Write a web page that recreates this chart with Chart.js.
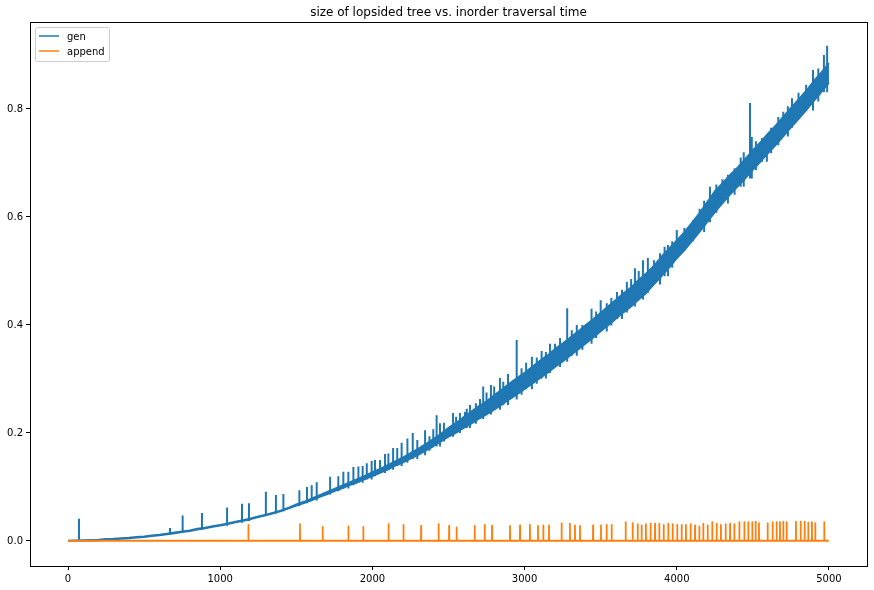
<!DOCTYPE html>
<html lang="en">
<head>
  <meta charset="UTF-8" />
  <title>size of lopsided tree vs. inorder traversal time</title>
  <script src="https://cdn.jsdelivr.net/npm/chart.js"></script>
  <style>
    body {
      margin: 0;
      background: #fff;
    }
    .wrap {
      width: 874px;
      height: 590px;
    }
  </style>
</head>
<body>
  <div class="wrap">
    <canvas id="chart" width="874" height="590"></canvas>
  </div>

  <script>
    const chartTitle = 'size of lopsided tree vs. inorder traversal time';
    const xTicks = [0, 1000, 2000, 3000, 4000, 5000];
    const yTicks = [0.0, 0.2, 0.4, 0.6, 0.8];

    // gen: readings of the band every 50 items (lower edge / upper edge)
    const genStep = 50;
    const genLow = [
      0.0000, 0.0001, 0.0003, 0.0006, 0.0011, 0.0018, 0.0026, 0.0035, 0.0046, 0.0058,
      0.0071, 0.0086, 0.0103, 0.0120, 0.0140, 0.0160, 0.0182, 0.0206, 0.0231, 0.0257,
      0.028, 0.031, 0.034, 0.037, 0.040, 0.044, 0.047, 0.051, 0.055, 0.060,
      0.065, 0.070, 0.075, 0.081, 0.086, 0.092, 0.097, 0.103, 0.108, 0.114,
      0.120, 0.126, 0.132, 0.139, 0.145, 0.152, 0.159, 0.167, 0.175, 0.184,
      0.193, 0.200, 0.209, 0.217, 0.226, 0.234, 0.243, 0.252, 0.262, 0.271,
      0.281, 0.291, 0.301, 0.311, 0.322, 0.332, 0.343, 0.354, 0.365, 0.376,
      0.388, 0.399, 0.411, 0.423, 0.434, 0.447, 0.459, 0.475, 0.490, 0.506,
      0.523, 0.538, 0.555, 0.572, 0.590, 0.608, 0.625, 0.641, 0.656, 0.671,
      0.687, 0.702, 0.718, 0.733, 0.749, 0.765, 0.781, 0.797, 0.814, 0.831,
      0.848
    ];
    const genHigh = [
      0.0010, 0.0015, 0.0020, 0.0025, 0.0030, 0.0040, 0.0045, 0.0055, 0.0065, 0.0080,
      0.0090, 0.0105, 0.0120, 0.0140, 0.0160, 0.0180, 0.0200, 0.0230, 0.0250, 0.0280,
      0.030, 0.033, 0.036, 0.039, 0.042, 0.046, 0.049, 0.053, 0.057, 0.062,
      0.068, 0.073, 0.079, 0.085, 0.091, 0.097, 0.103, 0.109, 0.115, 0.121,
      0.128, 0.134, 0.141, 0.148, 0.155, 0.163, 0.171, 0.180, 0.189, 0.199,
      0.210, 0.219, 0.230, 0.240, 0.250, 0.259, 0.270, 0.281, 0.292, 0.302,
      0.312, 0.323, 0.334, 0.344, 0.356, 0.366, 0.377, 0.388, 0.400, 0.411,
      0.423, 0.435, 0.447, 0.459, 0.470, 0.484, 0.496, 0.510, 0.527, 0.542,
      0.557, 0.572, 0.590, 0.608, 0.628, 0.648, 0.663, 0.678, 0.692, 0.708,
      0.724, 0.739, 0.755, 0.770, 0.786, 0.802, 0.818, 0.834, 0.852, 0.868,
      0.885
    ];
    // gen spikes above the band: position and peak
    const genSpikeX = [
      72, 670, 753, 880, 1045, 1143, 1189, 1300, 1366, 1415, 1520, 1570, 1601, 1634,
      1722, 1776, 1809, 1842, 1875, 1908, 1936, 1963, 1995, 2017, 2050, 2083, 2105,
      2136, 2163, 2192, 2230, 2265, 2295, 2346, 2375, 2400, 2422, 2444, 2470, 2530,
      2550, 2575, 2608, 2620, 2641, 2680, 2707, 2728, 2750, 2779, 2800, 2838, 2860,
      2891, 2948, 2980, 3010, 3048, 3080, 3112, 3140, 3167, 3200, 3233, 3280, 3310,
      3343, 3380, 3440, 3470, 3500, 3540, 3570, 3607, 3640, 3672, 3700, 3725, 3750,
      3778, 3810, 3850, 3890, 3920, 3942, 3970, 4000, 4050, 4107, 4150, 4180, 4218,
      4260, 4300, 4336, 4380, 4420, 4440, 4481, 4493, 4520, 4560, 4592, 4620, 4667,
      4700, 4730, 4757, 4800, 4850, 4895, 4930, 4967, 4988
    ];
    const genSpikeY = [
      0.041, 0.024, 0.047, 0.052, 0.062, 0.069, 0.070, 0.091, 0.085, 0.087, 0.094, 0.100, 0.103, 0.109,
      0.119, 0.120, 0.128, 0.128, 0.137, 0.138, 0.139, 0.144, 0.148, 0.150, 0.150, 0.161, 0.162,
      0.172, 0.172, 0.182, 0.190, 0.200, 0.187, 0.205, 0.194, 0.207, 0.233, 0.218, 0.219, 0.237,
      0.230, 0.237, 0.239, 0.245, 0.252, 0.255, 0.263, 0.286, 0.275, 0.289, 0.286, 0.302, 0.295,
      0.309, 0.372, 0.320, 0.330, 0.341, 0.340, 0.352, 0.350, 0.365, 0.365, 0.376, 0.431, 0.390,
      0.400, 0.400, 0.430, 0.425, 0.446, 0.440, 0.450, 0.461, 0.465, 0.480, 0.485, 0.505, 0.500,
      0.520, 0.524, 0.520, 0.533, 0.545, 0.548, 0.555, 0.576, 0.580, 0.594, 0.615, 0.630, 0.656,
      0.660, 0.670, 0.678, 0.690, 0.710, 0.720, 0.811, 0.748, 0.740, 0.746, 0.752, 0.765, 0.785,
      0.795, 0.805, 0.820, 0.830, 0.845, 0.872, 0.875, 0.900, 0.917
    ];

    // append: flat near zero with short spikes
    const appendLevel = 0.0005;
    const appendEnd = 4999;
    const appendSpikeX = [
      1185, 1524, 1673, 1842, 1940, 2106, 2204, 2320, 2435, 2504, 2553, 2672, 2738, 2786,
      2904, 2970, 3035, 3088, 3123, 3160, 3243, 3298, 3331, 3364, 3450, 3502, 3539, 3572,
      3664, 3710, 3743, 3769, 3797, 3828, 3857, 3885, 3914, 3944, 3973, 4003, 4032, 4060,
      4091, 4120, 4148, 4174, 4203, 4233, 4262, 4290, 4321, 4350, 4378, 4411, 4444, 4470,
      4496, 4518, 4540, 4597, 4630, 4656, 4678, 4700, 4722, 4783, 4814, 4840, 4864, 4888,
      4910, 4969
    ];
    const appendSpikeY = [
      0.030, 0.031, 0.026, 0.027, 0.026, 0.031, 0.030, 0.028, 0.031, 0.028, 0.025, 0.028, 0.030, 0.028,
      0.028, 0.029, 0.030, 0.028, 0.029, 0.029, 0.033, 0.032, 0.029, 0.028, 0.029, 0.029, 0.030, 0.030,
      0.035, 0.033, 0.031, 0.029, 0.031, 0.032, 0.032, 0.032, 0.030, 0.032, 0.031, 0.030, 0.030, 0.030,
      0.031, 0.029, 0.027, 0.032, 0.029, 0.035, 0.032, 0.030, 0.031, 0.032, 0.031, 0.035, 0.035, 0.035,
      0.035, 0.036, 0.033, 0.033, 0.035, 0.035, 0.035, 0.036, 0.035, 0.036, 0.036, 0.036, 0.034, 0.035,
      0.033, 0.035
    ];

    const BLUE = '#1f77b4';
    const ORANGE = '#ff7f0e';

    const genHighPts = genHigh.map((v, i) => ({ x: i * genStep, y: v }));
    const genLowPts = genLow.map((v, i) => ({ x: i * genStep, y: v }));

    const spikePts = [];
    genSpikeX.forEach((x, i) => {
      const base = genLow[Math.floor(x / genStep)];
      spikePts.push({ x: x, y: base }, { x: x, y: genSpikeY[i] }, { x: x, y: null });
    });

    const appendPts = [{ x: 0, y: appendLevel }];
    appendSpikeX.forEach((x, i) => {
      appendPts.push({ x: x - 1, y: appendLevel }, { x: x, y: appendSpikeY[i] }, { x: x + 1, y: appendLevel });
    });
    appendPts.push({ x: appendEnd, y: appendLevel });

    const lineStyle = {
      borderWidth: 1.5,
      pointRadius: 0,
      tension: 0,
      borderJoinStyle: 'round',
      borderCapStyle: 'butt'
    };

    // axes box, title and legend drawn like the matplotlib figure
    const decorPlugin = {
      id: 'decor',
      afterDraw(chart) {
        const { ctx, chartArea: a } = chart;
        ctx.save();
        ctx.strokeStyle = '#000';
        ctx.lineWidth = 1;
        ctx.strokeRect(a.left + 0.5, a.top + 0.5, a.right - a.left, a.bottom - a.top);

        ctx.fillStyle = '#000';
        ctx.font = '12px "DejaVu Sans"';
        ctx.textAlign = 'center';
        ctx.textBaseline = 'alphabetic';
        ctx.fillText(chartTitle, (a.left + a.right) / 2, 16);

        // legend
        const lx = a.left + 5, ly = a.top + 5, lw = 74, lh = 34;
        ctx.beginPath();
        ctx.roundRect(lx + 0.5, ly + 0.5, lw, lh, 2);
        ctx.fillStyle = 'rgba(255,255,255,0.8)';
        ctx.fill();
        ctx.strokeStyle = '#cccccc';
        ctx.stroke();

        const items = chart.data.datasets.filter(d => d.inLegend);
        items.forEach((d, i) => {
          const cy = ly + 9 + i * 15;
          ctx.beginPath();
          ctx.strokeStyle = d.borderColor;
          ctx.lineWidth = 1.5;
          ctx.moveTo(lx + 4, cy);
          ctx.lineTo(lx + 24, cy);
          ctx.stroke();
          ctx.fillStyle = '#000';
          ctx.font = '10px "DejaVu Sans"';
          ctx.textAlign = 'left';
          ctx.fillText(d.label, lx + 32, cy + 3.5);
        });
        ctx.restore();
      }
    };

    const ctx = document.getElementById('chart').getContext('2d');
    new Chart(ctx, {
      type: 'line',
      data: {
        datasets: [
          Object.assign({}, lineStyle, {
            label: 'gen', inLegend: true, data: genHighPts,
            borderColor: BLUE, backgroundColor: BLUE, fill: '+1', order: 1
          }),
          Object.assign({}, lineStyle, {
            label: 'gen low', data: genLowPts,
            borderColor: BLUE, backgroundColor: BLUE, fill: false, order: 1
          }),
          Object.assign({}, lineStyle, {
            label: 'gen spikes', data: spikePts, spanGaps: false, borderWidth: 2,
            borderColor: BLUE, backgroundColor: BLUE, fill: false, order: 1
          }),
          Object.assign({}, lineStyle, {
            label: 'append', inLegend: true, data: appendPts, borderWidth: 1.8,
            borderColor: ORANGE, backgroundColor: ORANGE, fill: false, order: 0
          })
        ]
      },
      options: {
        responsive: false,
        animation: false,
        devicePixelRatio: 1,
        layout: { padding: { top: 22, right: 7, left: 0, bottom: 0 } },
        plugins: {
          legend: { display: false },
          title: { display: false },
          tooltip: { enabled: false }
        },
        scales: {
          x: {
            type: 'linear',
            min: -250,
            max: 5250,
            afterBuildTicks: s => { s.ticks = xTicks.map(v => ({ value: v })); },
            afterFit: s => { s.height = 24; },
            grid: { drawOnChartArea: false, drawTicks: true, tickLength: 4, color: '#000', tickColor: '#000' },
            border: { display: false },
            ticks: {
              color: '#000',
              padding: 3,
              maxRotation: 0,
              font: { family: 'DejaVu Sans', size: 10 },
              callback: v => String(v)
            }
          },
          y: {
            type: 'linear',
            min: -0.0463,
            max: 0.961,
            afterBuildTicks: s => { s.ticks = yTicks.map(v => ({ value: v })); },
            afterFit: s => { s.width = 30; },
            grid: { drawOnChartArea: false, drawTicks: true, tickLength: 4, color: '#000', tickColor: '#000' },
            border: { display: false },
            ticks: {
              color: '#000',
              padding: 3,
              font: { family: 'DejaVu Sans', size: 10 },
              callback: v => v.toFixed(1)
            }
          }
        }
      },
      plugins: [decorPlugin]
    });
  </script>
</body>
</html>
